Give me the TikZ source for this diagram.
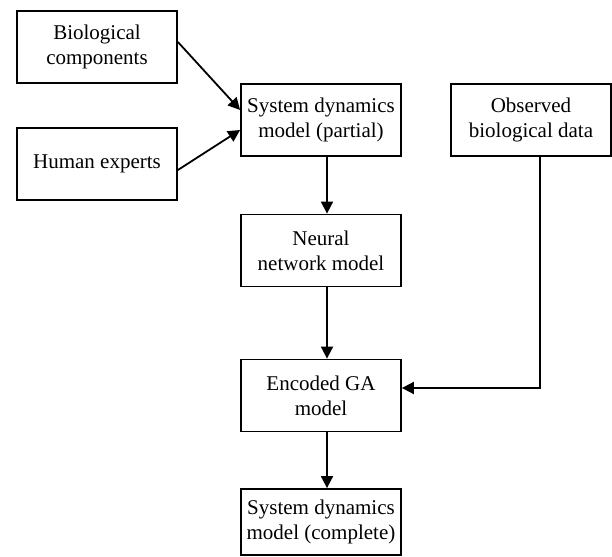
\documentclass[tikz,border=0pt]{standalone}
\usepackage{fontspec}
\setmainfont{Liberation Serif}
\usepackage{tikz}
\usetikzlibrary{arrows.meta}

\begin{document}
\begin{tikzpicture}[x=1pt,y=-1pt,line width=1.8pt,>={Triangle[length=12pt,width=12pt]},
	every node/.style={draw,rectangle,align=center,minimum width=160pt,minimum height=72pt,inner sep=0pt,font=\fontsize{21}{25}\selectfont}]
	\useasboundingbox (0,0) rectangle (612,556);
	\node (bio) at (97,47)  {Biological\\components};
	\node (hum) at (97,164)  {Human experts};
	\node (sdp) at (321,120)  {System dynamics\\model (partial)};
	\node (obs) at (531,120)  {Observed\\biological data};
	\node (nn) at (321,250.5)  {Neural\\network model};
	\node (enc) at (321,395.5)  {Encoded GA\\model};
	\node[minimum height=66pt] (sdc) at (321,522)  {System dynamics\\model (complete)};
	\coordinate (bend) at (540,388);
	
	\draw[->] ([yshift=5pt]bio.east) -- ([yshift=10pt]sdp.west);
	\draw[->] ([yshift=-6pt]hum.east) -- ([yshift=-10pt]sdp.west);
	\draw[->] ([xshift=6pt]sdp.south) -- ([xshift=6pt]nn.north);
	\draw[->] ([xshift=6pt]nn.south) -- ([xshift=6pt]enc.north);
	\draw[->] ([xshift=6pt]enc.south) -- ([xshift=6pt]sdc.north);
	\draw[->] (obs.south -| bend) -- (bend) -- (enc.east |- bend);
	
	\end{tikzpicture}
\end{document}
